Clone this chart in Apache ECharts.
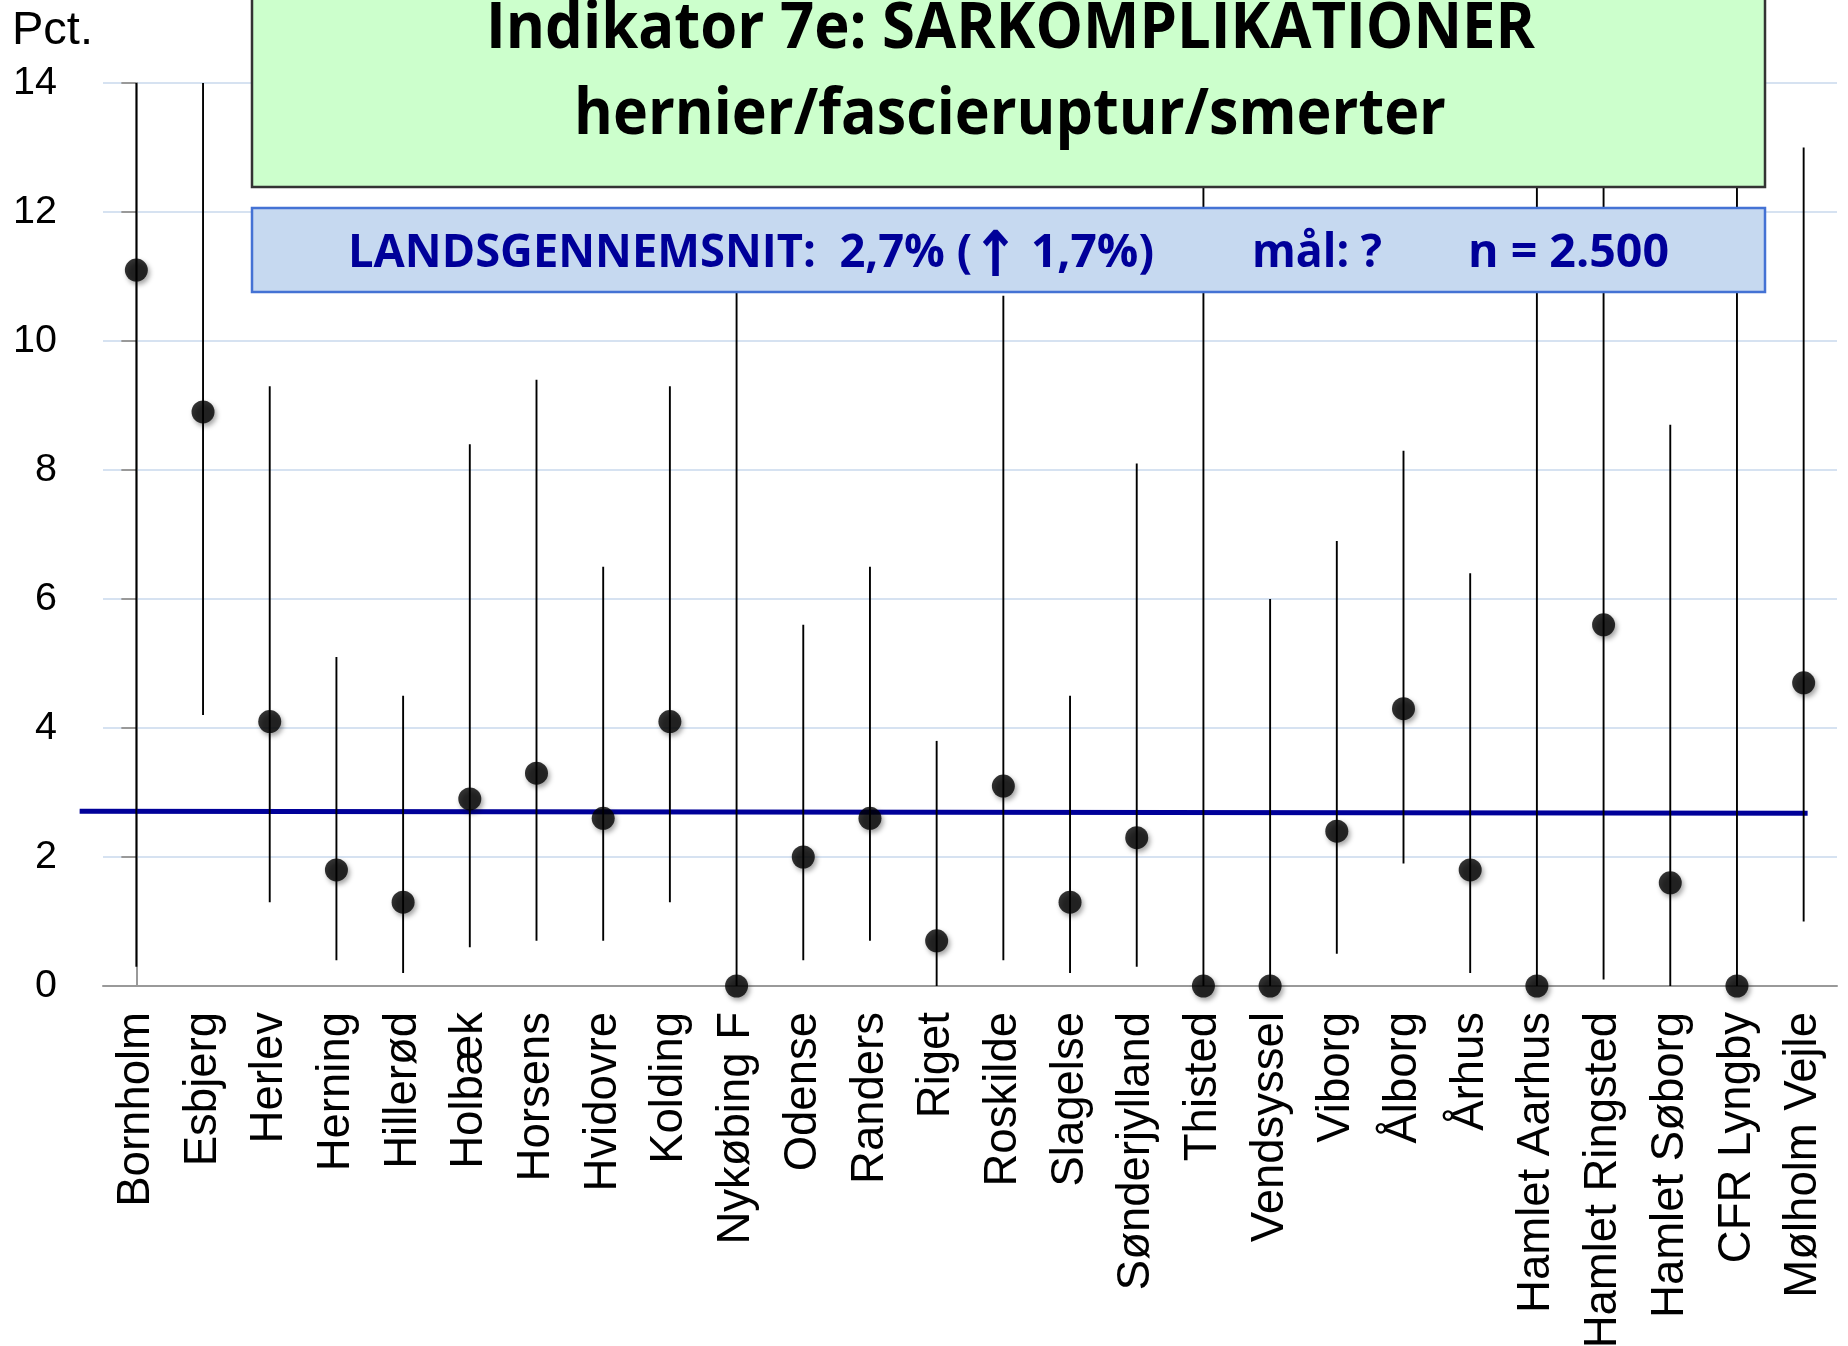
<!DOCTYPE html>
<html>
<head>
<meta charset="utf-8">
<title>Indikator 7e</title>
<script src="https://cdn.jsdelivr.net/npm/echarts@6/dist/echarts.min.js"></script>
<style>
  html, body { margin: 0; padding: 0; background: #fff; }
  #main { width: 1848px; height: 1346px; }
</style>
</head>
<body>
<div id="main"></div>
<script>
// afdelinger
var categories = ['Bornholm', 'Esbjerg', 'Herlev', 'Herning', 'Hillerød', 'Holbæk', 'Horsens',
    'Hvidovre', 'Kolding', 'Nykøbing F', 'Odense', 'Randers', 'Riget', 'Roskilde', 'Slagelse',
    'Sønderjylland', 'Thisted', 'Vendsyssel', 'Viborg', 'Ålborg', 'Århus', 'Hamlet Aarhus',
    'Hamlet Ringsted', 'Hamlet Søborg', 'CFR Lyngby', 'Mølholm Vejle'];
// andel i pct.
var rate = [11.1, 8.9, 4.1, 1.8, 1.3, 2.9, 3.3, 2.6, 4.1, 0, 2.0, 2.6, 0.7, 3.1, 1.3,
    2.3, 0, 0, 2.4, 4.3, 1.8, 0, 5.6, 1.6, 0, 4.7];
// konfidensinterval, nedre og oevre graense
var ciLow = [0.3, 4.2, 1.3, 0.4, 0.2, 0.6, 0.7, 0.7, 1.3, 0, 0.4, 0.7, 0, 0.4, 0.2,
    0.3, 0, 0, 0.5, 1.9, 0.2, 0, 0.1, 0, 0, 1.0];
var ciHigh = [14, 14, 9.3, 5.1, 4.5, 8.4, 9.4, 6.5, 9.3, 11.5, 5.6, 6.5, 3.8, 10.7, 4.5,
    8.1, 14, 6.0, 6.9, 8.3, 6.4, 14, 14, 8.7, 14, 13.0];
// landsgennemsnit: [x start, y start, x slut, y slut] (x = kategori-indeks)
var avgLine = [-0.85, 2.71, 25.06, 2.68];

var titleLine1 = 'Indikator 7e: SARKOMPLIKATIONER';
var titleLine2 = 'hernier/fascieruptur/smerter';
var infoA = 'LANDSGENNEMSNIT:  2,7% (';
var infoArrow = '\u2191';
var infoB = '1,7%)';
var infoGoal = 'mål: ?';
var infoN = 'n = 2.500';

var myChart = echarts.init(document.getElementById('main'));

// maal tekstbredde saa teksten kan presses til samme bredde som Calibri
var mctx = document.createElement('canvas').getContext('2d');
function fitScale(str, font, width) {
    mctx.font = font;
    return width / mctx.measureText(str).width;
}
var TITLE_FONT = 'bold 64px "Open Sans"';
var INFO_FONT = 'bold 46px "Open Sans"';
var ARROW_FONT = 'bold 63px "DejaVu Sans"';

function txt(str, x, y, font, width, color) {
    return {
        type: 'text',
        x: x,
        y: y,
        scaleX: fitScale(str, font, width),
        z: 110,
        style: {
            text: str,
            font: font,
            fill: color,
            align: 'left',
            verticalAlign: 'middle',
            textAlign: 'left',
            textVerticalAlign: 'middle'
        }
    };
}

var option = {
    backgroundColor: '#fff',
    animation: false,
    grid: { left: 103, right: 11, top: 83, bottom: 360, outerBoundsMode: 'none' },
    xAxis: [{
        type: 'category',
        data: categories,
        boundaryGap: true,
        axisLine: { lineStyle: { color: '#999', width: 2 } },
        axisTick: { length: 14, lineStyle: { color: '#999', width: 2 } },
        axisLabel: {
            interval: 0,
            rotate: 90,
            margin: 26,
            color: '#000',
            fontSize: 45.5,
            fontFamily: 'Liberation Sans'
        },
        splitLine: { show: false }
    }, {
        type: 'value',
        min: -0.5,
        max: 25.5,
        show: false
    }],
    yAxis: {
        type: 'value',
        min: 0,
        max: 14,
        interval: 2,
        axisLine: { show: true, lineStyle: { color: '#999', width: 2 } },
        axisTick: { show: true, length: 15, lineStyle: { color: '#999', width: 2 } },
        axisLabel: { margin: 46, color: '#000', fontSize: 39.5, fontFamily: 'Liberation Sans' },
        splitLine: { lineStyle: { color: '#c9d8ec', width: 1.5 } }
    },
    series: [
        {
            // landsgennemsnit
            type: 'custom',
            xAxisIndex: 1,
            clip: false,
            z: 2,
            data: [avgLine],
            encode: { x: [0, 2], y: [1, 3] },
            renderItem: function (params, api) {
                var a = api.coord([api.value(0), api.value(1)]);
                var b = api.coord([api.value(2), api.value(3)]);
                return {
                    type: 'line',
                    shape: { x1: a[0], y1: a[1], x2: b[0], y2: b[1] },
                    style: { stroke: '#000099', lineWidth: 5 }
                };
            }
        },
        {
            type: 'custom',
            z: 3,
            clip: true,
            data: categories.map(function (c, i) { return [i, ciLow[i], ciHigh[i]]; }),
            renderItem: function (params, api) {
                var lo = api.coord([api.value(0), api.value(1)]);
                var hi = api.coord([api.value(0), api.value(2)]);
                return {
                    type: 'line',
                    shape: { x1: lo[0], y1: lo[1], x2: hi[0], y2: hi[1] },
                    style: { stroke: '#000', lineWidth: 1.9 }
                };
            }
        },
        {
            type: 'scatter',
            z: 4,
            clip: false,
            data: rate,
            symbol: 'circle',
            symbolSize: 23,
            itemStyle: {
                color: '#000',
                shadowBlur: 5,
                shadowColor: 'rgba(0,0,0,0.45)',
                shadowOffsetX: 2,
                shadowOffsetY: 3
            }
        }
    ],
    graphic: [
        {
            type: 'rect',
            z: 100,
            shape: { x: 252, y: -10, width: 1513, height: 197 },
            style: { fill: '#ccffcc', stroke: '#333', lineWidth: 2.5 }
        },
        {
            type: 'rect',
            z: 100,
            shape: { x: 252, y: 208, width: 1513, height: 84 },
            style: { fill: '#c6d9f0', stroke: '#4472d4', lineWidth: 2.5 }
        },
        txt(titleLine1, 486, 30, TITLE_FONT, 1049, '#000'),
        txt(titleLine2, 574, 116, TITLE_FONT, 872, '#000'),
        txt(infoA, 348, 254, INFO_FONT, 624, '#000099'),
        txt(infoArrow, 972, 260, ARROW_FONT, 47, '#000099'),
        txt(infoB, 1031, 254, INFO_FONT, 123, '#000099'),
        txt(infoGoal, 1252, 254, INFO_FONT, 130, '#000099'),
        txt(infoN, 1468, 254, INFO_FONT, 201, '#000099'),
        {
            type: 'text',
            x: 12,
            y: 31,
            z: 110,
            style: {
                text: 'Pct.',
                font: '47px "Liberation Sans"',
                fill: '#000',
                align: 'left',
                verticalAlign: 'middle'
            }
        }
    ]
};
myChart.setOption(option);
</script>
</body>
</html>
